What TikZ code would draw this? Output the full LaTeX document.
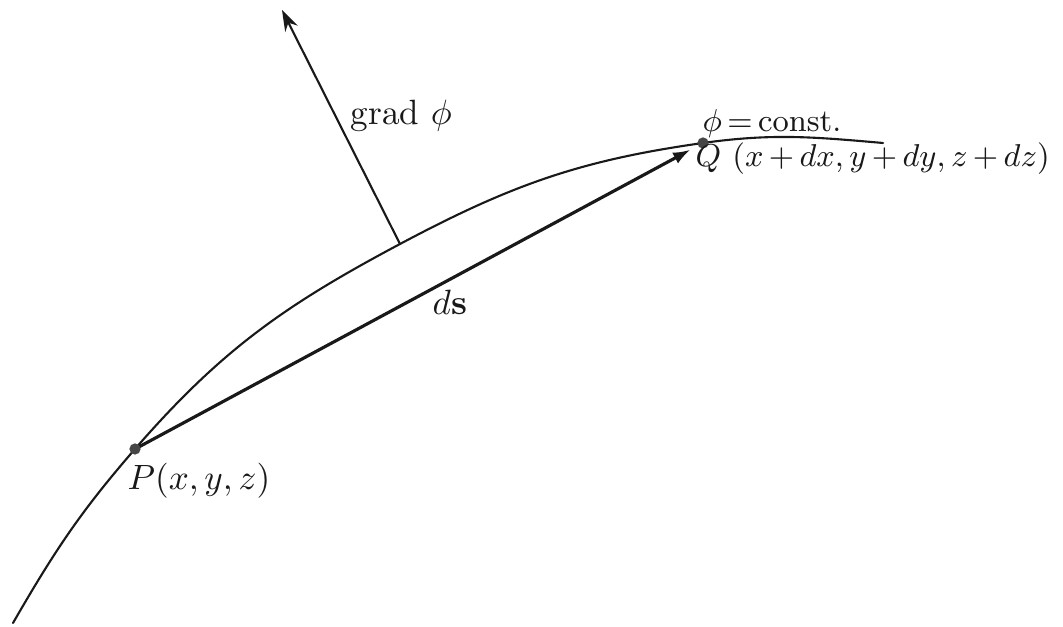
\documentclass[tikz,border=0pt]{standalone}
\usepackage{xcolor}
\usepackage{amsmath}
\usepackage{tikz}
\usetikzlibrary{positioning,arrows.meta}
\definecolor{ink}{RGB}{25,25,25}
\definecolor{dotgrey}{RGB}{70,70,70}
\newcommand{\pointdot}[1]{\fill[dotgrey] (#1) circle (1.6pt);}
\tikzset{
  lbl/.style={anchor=base west, inner sep=0pt, text=ink},
  surface/.style={draw=ink, line width=0.6pt},
  gradvec/.style={draw=ink, line width=0.6pt, -{Stealth[length=6pt,width=4pt]}},
  dsvec/.style={draw=ink, line width=0.9pt, shorten >=4pt, -{Latex[length=5pt,width=3.5pt]}}
}

\begin{document}
\begin{tikzpicture}[line cap=round]
  \useasboundingbox (0,0) rectangle (10.63,6.27);
  \coordinate (S) at (0.13,0.04);
  \coordinate (P) at (1.35,1.78);
  \coordinate (G) at (4.00,3.83);
  \coordinate (Q) at (7.03,4.84);
  \coordinate (E) at (8.83,4.84);
  \coordinate (T) at (2.82,6.17);
  \draw[surface] (S) to[out=60,in=-131] (P) to[out=49,in=-152] (G)
    to[out=28,in=-172] (Q) to[out=8,in=175] (E);
  \draw[gradvec] (G) -- (T);
  \draw[dsvec] (P) -- (Q);
  \pointdot{P}
  \pointdot{Q}
  \node[lbl] (gradlbl) at (3.50,5.02) {grad $\phi$};
  \node[lbl] (dslbl) at (4.32,3.12) {$d\mathbf{s}$};
  \node[lbl, font=\fontsize{9.5}{11}\selectfont] (constlbl) at (7.02,4.95) {$\thickmuskip=3mu \phi = \mathrm{const.}$};
  \node[lbl, font=\fontsize{9.2}{11}\selectfont] (qlbl) at (6.95,4.60) {$\medmuskip=3mu Q\ (x + dx, y + dy, z + dz)$};
  \node[lbl] (plbl) at (1.27,1.37) {$P(x, y, z)$};
\end{tikzpicture}
\end{document}
